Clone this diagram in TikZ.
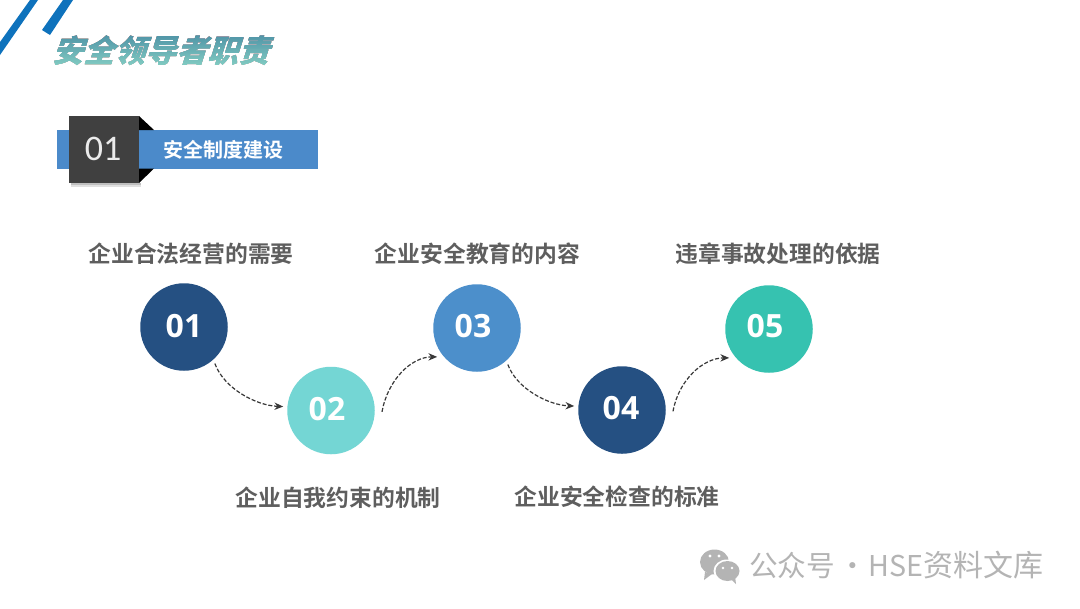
\documentclass[tikz,border=0pt]{standalone}
\usepackage{fontspec}
\setmainfont{Noto Sans CJK SC}
\newfontfamily\cjkbold{Noto Sans CJK SC Bold}
\newfontfamily\cjkblack{Noto Sans CJK SC Black}
\newfontfamily\numfont{Open Sans}[BoldFont={Open Sans Bold}]
\newfontfamily\thinfont{Carlito}
\usetikzlibrary{arrows.meta}
\definecolor{navy}{HTML}{255082}
\definecolor{aqua}{HTML}{74D6D4}
\definecolor{midblue}{HTML}{4C8FCB}
\definecolor{seagreen}{HTML}{36C2B0}
\definecolor{stripeblue}{HTML}{0E72BC}
\definecolor{bandblue}{HTML}{4B8ACA}
\definecolor{darkbox}{HTML}{404040}
\definecolor{labelgrey}{HTML}{5E5E5E}
\definecolor{markgrey}{HTML}{B4B4B4}
\definecolor{titletop}{HTML}{4F93A6}
\definecolor{titlebot}{HTML}{86D0C4}
\tikzset{
  numdisc/.style={circle,minimum size=87.5*0.75pt,inner sep=0pt},
  numtext/.style={inner sep=0pt,text=white,font=\numfont\bfseries\fontsize{24}{24}\selectfont},
  steplabel/.style={text=labelgrey,font=\cjkbold\fontsize{17.1}{18}\selectfont,inner sep=0pt},
  flow/.style={dash pattern=on 3pt off 1.4pt,draw=black!78,line width=0.9pt,-{Stealth[length=6.5pt,width=5.5pt]}},
  stripe/.style={fill=stripeblue,draw=none}
}
\begin{document}
\begin{tikzpicture}[x=0.75pt,y=-0.75pt]
\useasboundingbox (0,0) rectangle (1080,608);
\fill[white] (0,0) rectangle (1080,608);
% stripes
\fill[stripe] (30,0) -- (38,0) -- (0,55) -- (0,42) -- cycle;
\fill[stripe] (63,0) -- (73,0) -- (50,35) -- (42,30) -- cycle;
% title
\node[inner sep=0pt,text=black,font=\cjkblack\fontsize{23.3}{24}\selectfont,xslant=0.32] (title) at (165,51) {安全领导者职责};
\begin{scope}[blend mode=lighten]
\shade[top color=titletop,bottom color=titlebot,draw=none] (45,34) rectangle (290,68);
\end{scope}
% banner
\fill[bandblue] (56.5,130) rectangle (318,168.5);
\fill[black] (139,116) -- (154,130) -- (139,130) -- cycle;
\fill[black] (139,168.5) -- (154,168.5) -- (139,183) -- cycle;
\fill[black!12] (71,183) rectangle (141,186.5);
\fill[black!25] (71,183) rectangle (141,185);
\node[fill=darkbox,minimum width=70*0.75pt,minimum height=67*0.75pt,inner sep=0pt] (badge) at (104,149.5) {};
\node[inner sep=0pt,text=white!92!black,font=\thinfont\fontsize{27}{27}\selectfont] (badgetext) at (103,148.5) {01};
\node[inner sep=0pt,text=white,font=\cjkbold\fontsize{15}{16}\selectfont] (bandtext) at (223.5,149.5) {安全制度建设};
% discs
\node[numdisc,fill=navy] (c1) at (184,327) {};
\node[numdisc,fill=aqua] (c2) at (331,410.5) {};
\node[numdisc,fill=midblue] (c3) at (477,328) {};
\node[numdisc,fill=navy] (c4) at (622,410) {};
\node[numdisc,fill=seagreen] (c5) at (769,329) {};
\node[numtext] (n1) at (184,326.5) {01};
\node[numtext] (n2) at (327,409) {02};
\node[numtext] (n3) at (473,326) {03};
\node[numtext] (n4) at (621,408) {04};
\node[numtext] (n5) at (765,326) {05};
% labels
\node[steplabel] (l1) at (191,254) {企业合法经营的需要};
\node[steplabel] (l2) at (338,498) {企业自我约束的机制};
\node[steplabel] (l3) at (477.5,254) {企业安全教育的内容};
\node[steplabel] (l4) at (617,497) {企业安全检查的标准};
\node[steplabel] (l5) at (778,254) {违章事故处理的依据};
% connectors
\draw[flow,shorten <=3pt,shorten >=3pt] (c1.-48) to[out=-70,in=178,looseness=0.9] (c2.175);
\draw[flow,shorten >=5pt] ([xshift=5.25pt,yshift=-1pt]c2.0) to[out=80,in=180,looseness=1] (c3.221);
\draw[flow,shorten <=3pt,shorten >=3pt] (c3.-48) to[out=-70,in=178,looseness=0.9] (c4.175);
\draw[flow,shorten >=5pt] ([xshift=5.25pt,yshift=-1pt]c4.0) to[out=80,in=180,looseness=1] (c5.221);
% watermark
\fill[markgrey] (714.5,562) ellipse (14.5 and 12.5);
\fill[markgrey] (705,572) -- (704,580) -- (712,574) -- cycle;
\fill[white] (727,571) ellipse (13.5 and 11.5);
\fill[markgrey] (727.5,571) ellipse (12 and 10);
\fill[markgrey] (731,579) -- (736,584) -- (735,576) -- cycle;
\fill[white] (710,556) circle (1.6);
\fill[white] (719,556) circle (1.6);
\fill[white] (723,568) circle (1.4);
\fill[white] (732,568) circle (1.4);
\node[inner sep=0pt,text=markgrey,font=\fontsize{21.5}{23}\selectfont,anchor=west] (mark) at (749,565) {公众号\hspace{0.1em}·\hspace{0.05em}HSE{\fontsize{22.5}{23}\selectfont 资料文库}};
\end{tikzpicture}
\end{document}
